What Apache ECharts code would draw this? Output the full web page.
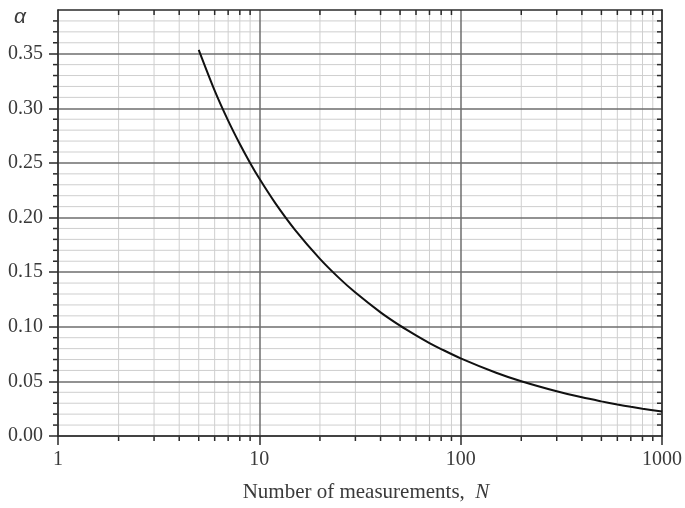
<!DOCTYPE html>
<html>
<head>
<meta charset="utf-8">
<script src="https://cdn.jsdelivr.net/npm/echarts@6/dist/echarts.min.js"></script>
<style>
html,body{margin:0;padding:0;background:#fff;}
#chart{width:685px;height:508px;}
</style>
</head>
<body>
<div id="chart"></div>
<script>
// Curve
const N_VALUES = [5, 6, 7, 8, 9, 10, 12, 15, 20, 25, 30, 40, 50, 60, 70, 80, 100, 150, 200, 300, 400, 500, 600, 700, 800, 1000];
const ALPHA = [0.3535, 0.3162, 0.2887, 0.2673, 0.2500, 0.2357, 0.2132, 0.1890, 0.1622, 0.1443, 0.1313, 0.1132, 0.1010, 0.0921, 0.0851, 0.0796, 0.0711, 0.0579, 0.0501, 0.0409, 0.0354, 0.0317, 0.0289, 0.0267, 0.0250, 0.0224];

// Ticks
const X_MAJOR = [1, 10, 100, 1000];
const X_MINOR = [2, 3, 4, 5, 6, 7, 8, 9, 20, 30, 40, 50, 60, 70, 80, 90, 200, 300, 400, 500, 600, 700, 800, 900];
const Y_MAJOR = [0, 0.05, 0.10, 0.15, 0.20, 0.25, 0.30, 0.35];
const Y_MINOR = [0.01, 0.02, 0.03, 0.04, 0.06, 0.07, 0.08, 0.09, 0.11, 0.12, 0.13, 0.14, 0.16, 0.17, 0.18, 0.19,
  0.21, 0.22, 0.23, 0.24, 0.26, 0.27, 0.28, 0.29, 0.31, 0.32, 0.33, 0.34, 0.36, 0.37, 0.38];
const Y_MAX = 0.39;

const chart = echarts.init(document.getElementById('chart'), null, {renderer: 'canvas'});

const SERIF = '"Liberation Serif", "Times New Roman", serif';
const TXT = '#3a3a3a';
const AXIS_COLOR = '#2a2a2a';
const MAJOR_GRID = '#6e6e6e';
const MINOR_GRID = '#cfcfcf';

function minorX(params, api) {
  const cs = params.coordSys;
  const px = api.coord([api.value(0), api.value(1)])[0];
  const b = cs.y + cs.height;
  return {
    type: 'group',
    children: [
      {type: 'line', shape: {x1: px, y1: cs.y, x2: px, y2: b}, style: {stroke: MINOR_GRID, lineWidth: 1}},
      {type: 'line', shape: {x1: px, y1: b, x2: px, y2: b + 5}, style: {stroke: AXIS_COLOR, lineWidth: 1.5}},
      {type: 'line', shape: {x1: px, y1: cs.y, x2: px, y2: cs.y + 5}, style: {stroke: AXIS_COLOR, lineWidth: 1.5}}
    ]
  };
}
function minorY(params, api) {
  const cs = params.coordSys;
  const py = api.coord([api.value(0), api.value(1)])[1];
  const r = cs.x + cs.width;
  return {
    type: 'group',
    children: [
      {type: 'line', shape: {x1: cs.x, y1: py, x2: r, y2: py}, style: {stroke: MINOR_GRID, lineWidth: 1}},
      {type: 'line', shape: {x1: cs.x - 5, y1: py, x2: cs.x, y2: py}, style: {stroke: AXIS_COLOR, lineWidth: 1.5}},
      {type: 'line', shape: {x1: r - 5, y1: py, x2: r, y2: py}, style: {stroke: AXIS_COLOR, lineWidth: 1.5}}
    ]
  };
}

const option = {
  animation: false,
  backgroundColor: '#fff',
  grid: {left: 58, right: 21, top: 10, bottom: 65, containLabel: false},
  graphic: [{
    type: 'text', left: 14, top: 7,
    style: {text: 'α', font: 'italic 21px "Liberation Sans", "DejaVu Sans", sans-serif', fill: TXT}
  }],
  xAxis: [{
    type: 'log', logBase: 10, min: 1, max: 1000, position: 'bottom', z: 1,
    axisLine: {show: true, onZero: false, lineStyle: {color: AXIS_COLOR, width: 1.5}},
    axisTick: {show: true, inside: false, length: 9, lineStyle: {color: AXIS_COLOR, width: 1.5}},
    axisLabel: {show: true, margin: 14, fontFamily: SERIF, fontSize: 20, color: TXT,
      formatter: function (v) { return String(Math.round(v)); }},
    splitLine: {show: true, lineStyle: {color: MAJOR_GRID, width: 1.5}},
    minorTick: {show: false}, minorSplitLine: {show: false},
    name: 'Number of measurements,  {i|N}', nameLocation: 'middle', nameGap: 46,
    nameTextStyle: {fontFamily: SERIF, fontSize: 21, color: TXT, padding: [0, 0, 0, 12],
      rich: {i: {fontFamily: SERIF, fontSize: 21, fontStyle: 'italic', color: TXT}}}
  }, {
    type: 'log', logBase: 10, min: 1, max: 1000, position: 'top', z: 1,
    axisLine: {show: true, onZero: false, lineStyle: {color: AXIS_COLOR, width: 1.5}},
    axisTick: {show: false}, axisLabel: {show: false}, splitLine: {show: false}
  }],
  yAxis: [{
    type: 'value', min: 0, max: Y_MAX, position: 'left', z: 1,
    axisLine: {show: true, onZero: false, lineStyle: {color: AXIS_COLOR, width: 1.5}},
    axisTick: {show: true, inside: false, length: 9, customValues: Y_MAJOR, lineStyle: {color: AXIS_COLOR, width: 1.5}},
    axisLabel: {show: true, margin: 15, fontFamily: SERIF, fontSize: 20, color: TXT, customValues: Y_MAJOR,
      formatter: function (v) { return v.toFixed(2); }},
    splitLine: {show: true, lineStyle: {color: MAJOR_GRID, width: 1.5}}
  }, {
    type: 'value', min: 0, max: Y_MAX, position: 'right', z: 1,
    axisLine: {show: true, onZero: false, lineStyle: {color: AXIS_COLOR, width: 1.5}},
    axisTick: {show: false}, axisLabel: {show: false}, splitLine: {show: false}
  }],
  series: [{
    type: 'custom', xAxisIndex: 0, yAxisIndex: 0, z: 0, silent: true,
    renderItem: minorX,
    data: X_MINOR.map(function (v) { return [v, 0.1]; })
  }, {
    type: 'custom', xAxisIndex: 0, yAxisIndex: 0, z: 0, silent: true,
    renderItem: minorY,
    data: Y_MINOR.map(function (v) { return [10, v]; })
  }, {
    type: 'line', xAxisIndex: 0, yAxisIndex: 0, z: 3,
    smooth: 0.3, showSymbol: false, symbol: 'none',
    lineStyle: {color: '#111', width: 2},
    data: N_VALUES.map(function (n, i) { return [n, ALPHA[i]]; })
  }]
};
chart.setOption(option);
</script>
</body>
</html>
